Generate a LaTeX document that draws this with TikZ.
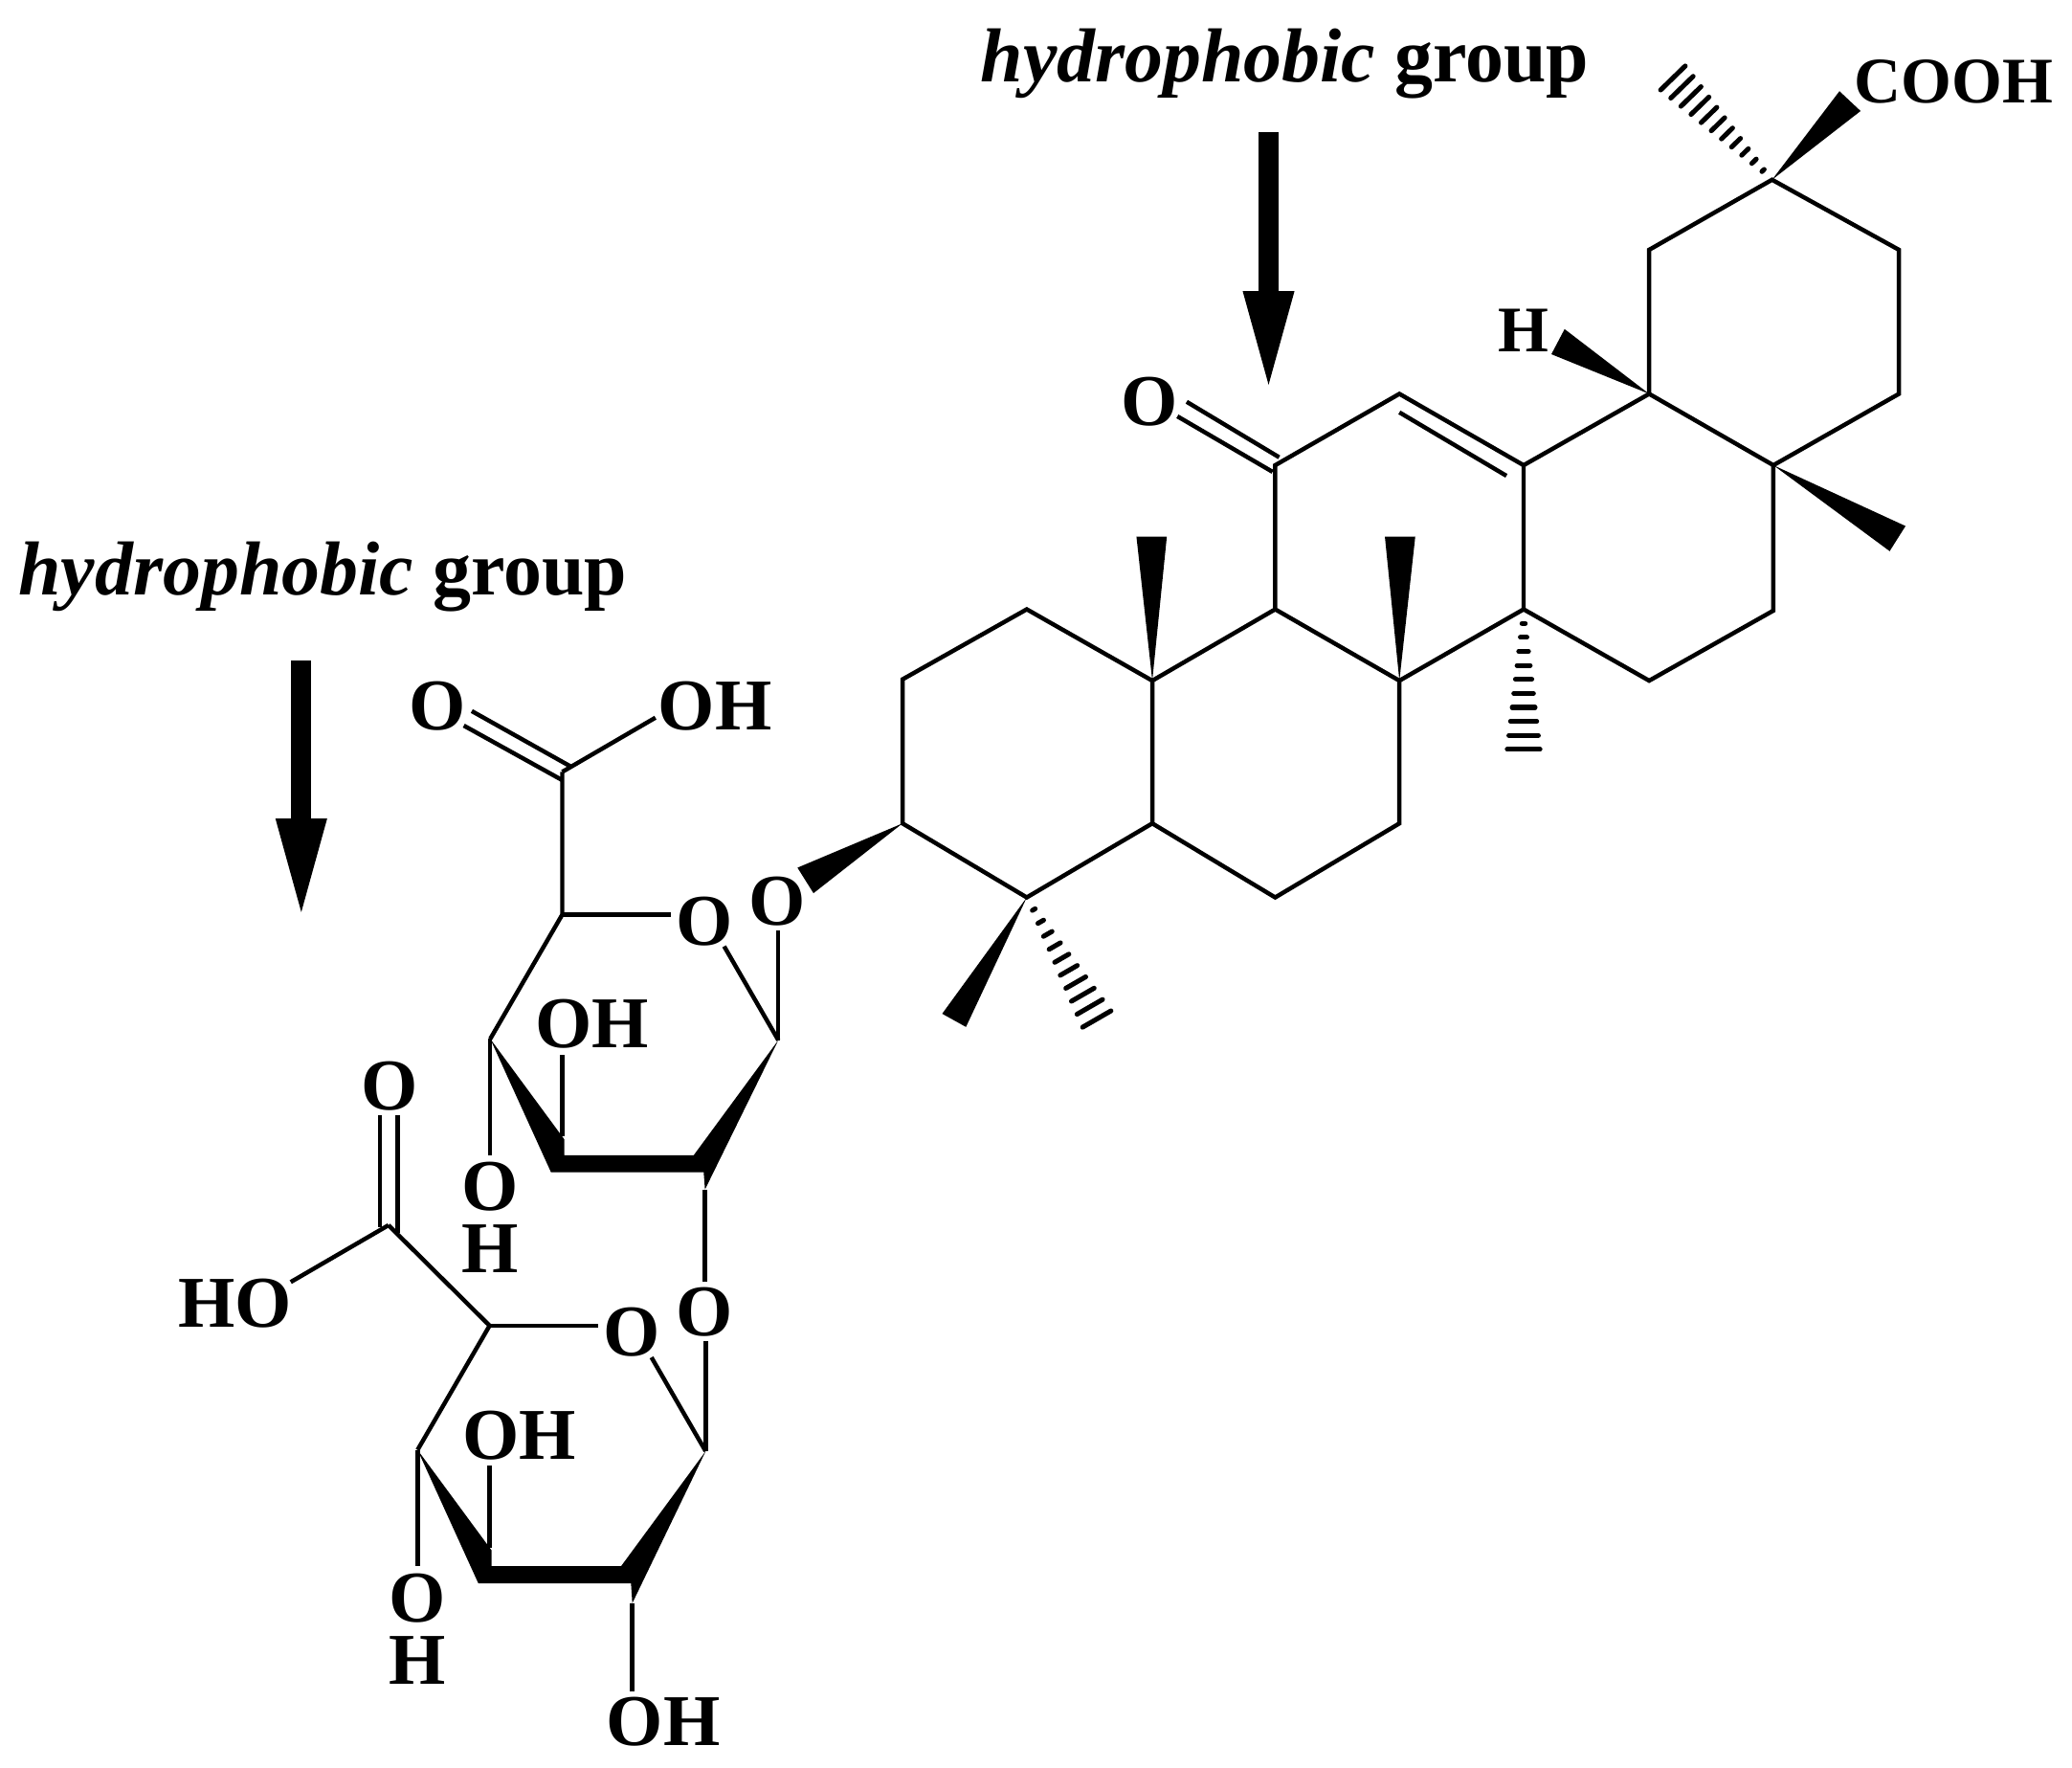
\documentclass[tikz,border=0pt]{standalone}
\usepackage{fontspec}
\setmainfont{Liberation Serif}
\usetikzlibrary{calc,arrows.meta}
\tikzset{
  bond/.style={line width=4.6pt,line join=miter,line cap=butt},
  hashline/.style={line width=5.2pt,line cap=round},
  atom/.style={inner sep=0pt,font=\fontsize{78.5}{78.5}\selectfont\bfseries,anchor=base},
  atomw/.style={atom,anchor=base west},
  small/.style={inner sep=0pt,font=\fontsize{70}{70}\selectfont\bfseries},
  caption/.style={inner sep=0pt,anchor=base west,font=\fontsize{82.3}{83}\selectfont\bfseries},
  bigarrow/.style={line width=22pt,-{Triangle[length=112pt,width=48pt]}},
  wedge/.style={fill=black,draw=none}
}
\newcommand{\hashbond}[4]{%
  \foreach \i in {1,...,#4}{%
    \pgfmathsetmacro\hasht{\i/#4}%
    \pgfmathsetmacro\hashw{#3*\hasht}%
    \coordinate (hp) at ($(#1)!\hasht!(#2)$);
    \draw[hashline] ($(hp)!\hashw cm!90:(#1)$) -- ($(hp)!\hashw cm!-90:(#1)$);
  }%
}
\begin{document}
\begin{tikzpicture}[x=0.05cm,y=-0.05cm]
\useasboundingbox (0,0) rectangle (1568,1337);
% ---- captions and arrows
\node[caption] (cap1) at (742,62) {\itshape hydrophobic\/ \upshape group};
\node[caption] (cap2) at (14,450) {\itshape hydrophobic\/ \upshape group};
\coordinate (a1s) at (960,100); \coordinate (a1e) at (960,299);
\coordinate (a2s) at (228,500); \coordinate (a2e) at (228,698);
\draw[bigarrow] (a1s) -- (a1e);
\draw[bigarrow] (a2s) -- (a2e);
% ---- aglycone atoms
\coordinate (e1) at (1341,136); \coordinate (e2) at (1437,189); \coordinate (e3) at (1437,298);
\coordinate (e4) at (1342,352); \coordinate (e5) at (1248,298); \coordinate (e6) at (1248,189);
\coordinate (d1) at (1342,462); \coordinate (d2) at (1248,515); \coordinate (d3) at (1153,461); \coordinate (d4) at (1153,352);
\coordinate (c1) at (1059,298); \coordinate (c2) at (965,352); \coordinate (c3) at (965,461); \coordinate (c4) at (1059,515);
\coordinate (b1) at (1059,623); \coordinate (b2) at (965,679); \coordinate (b3) at (872,623); \coordinate (b4) at (872,515);
\coordinate (a1) at (777,679); \coordinate (a2) at (683,623); \coordinate (a3) at (683,514); \coordinate (a4) at (777,461);
\draw[bond] (e1) -- (e2) -- (e3) -- (e4) -- (e5) -- (e6) -- cycle;
\draw[bond] (e4) -- (d1) -- (d2) -- (d3) -- (d4) -- (e5);
\draw[bond] (d4) -- (c1) -- (c2) -- (c3) -- (c4) -- (d3);
\draw[bond] (d3) -- (d4);
\coordinate (dbA) at (1059,312); \coordinate (dbB) at (1140,360);
\draw[bond] (dbA) -- (dbB);
\draw[bond] (c4) -- (b1) -- (b2) -- (b3) -- (b4) -- (c3);
\draw[bond] (b3) -- (a1) -- (a2) -- (a3) -- (a4) -- (b4);
% ketone
\node[atom] (ok) at (870,322) {O};
\coordinate (ko1) at (898,304); \coordinate (ko1b) at (968,346);
\coordinate (ko2) at (891,315); \coordinate (ko2b) at (963,357);
\draw[bond] (ko1) -- (ko1b);
\draw[bond] (ko2) -- (ko2b);
% wedges of the aglycone
\fill[wedge] (e1) -- (1392,69) -- (1408,84) -- cycle;
\fill[wedge] (e5) -- (1184,249) -- (1174,268) -- cycle;
\fill[wedge] (e4) -- (1442,398) -- (1430,417) -- cycle;
\fill[wedge] (b4) -- (860,406) -- (883,406) -- cycle;
\fill[wedge] (c4) -- (1048,406) -- (1071,406) -- cycle;
\fill[wedge] (a1) -- (713,767) -- (731,777) -- cycle;
\fill[wedge] (a2) -- (603.5,656.5) -- (615.6,675.8) -- cycle;
\coordinate (h1) at (1266,59); \coordinate (h2) at (1153,567); \coordinate (h3) at (830,771);
\hashbond{e1}{h1}{0.65}{11}
\hashbond{d3}{h2}{0.62}{10}
\hashbond{a1}{h3}{0.62}{10}
\node[small,anchor=base west] (cooh) at (1403,78) {COOH};
\node[small,anchor=base] (hh) at (1153,266) {H};
% ---- first sugar
\node[atom] (og) at (588,700) {O};
\node[atom] (or) at (533,715) {O};
\node[atom] (oc) at (331,552) {O};
\node[atomw] (ohc) at (498,552) {OH};
\node[atomw] (oh3) at (405,793) {OH};
\node[atom] (o4) at (371,916) {O};
\node[atom] (h4) at (371,963) {H};
\coordinate (s1) at (589,787); \coordinate (s2) at (425.5,692); \coordinate (s3) at (371,786);
\coordinate (s4) at (425.5,860); \coordinate (s5) at (533.5,900);
\coordinate (cc) at (425.5,584);
\coordinate (ogb) at (589,704); \coordinate (orl) at (508,692); \coordinate (orb) at (548,716);
\coordinate (ohe) at (496,543); \coordinate (o4e) at (371,874); \coordinate (oh3e) at (425.5,798);
\coordinate (odA) at (351,549); \coordinate (odB) at (425,590); \coordinate (odC) at (357,538); \coordinate (odD) at (432,580);
\draw[bond] (ogb) -- (s1);
\draw[bond] (s2) -- (orl);
\draw[bond] (orb) -- (s1);
\draw[bond] (s3) -- (s2) -- (cc);
\draw[bond] (cc) -- (ohe);
\draw[bond] (odA) -- (odB);
\draw[bond] (odC) -- (odD);
\draw[bond] (s3) -- (o4e);
\draw[bond] (s4) -- (oh3e);
\fill[wedge] (s3) -- (427,862) -- (427,874) -- (525,874) -- (s1) -- (s5) -- (532.5,887) -- (417,887) -- cycle;
% ---- second sugar
\node[atom] (og2) at (533,1011) {O};
\coordinate (ogt) at (533.5,970);
\draw[bond] (s5) -- (ogt);
\node[atom] (or2) at (478,1026) {O};
\node[atom] (oc2) at (294.5,840) {O};
\node[atom,anchor=base east] (ho2) at (221,1004) {HO};
\node[atomw] (oh32) at (350,1104) {OH};
\node[atom] (o42) at (316,1227) {O};
\node[atom] (h42) at (316,1274) {H};
\node[atomw] (ohb) at (459,1321) {OH};
\coordinate (t1) at (534,1098); \coordinate (t2) at (370.5,1003); \coordinate (t3) at (316,1097);
\coordinate (t4) at (370.5,1171); \coordinate (t5) at (478.5,1213);
\coordinate (cd) at (294,927);
\coordinate (ogb2) at (534,1015); \coordinate (orl2) at (453,1003); \coordinate (orb2) at (493,1027);
\coordinate (hoe) at (220,970); \coordinate (o4e2) at (316,1185); \coordinate (oh3e2) at (370.5,1109);
\coordinate (ohbe) at (478.5,1280);
\coordinate (qdA) at (287.6,844); \coordinate (qdB) at (287.6,928.6); \coordinate (qdC) at (301,844); \coordinate (qdD) at (301,933);
\draw[bond] (ogb2) -- (t1);
\draw[bond] (t2) -- (orl2);
\draw[bond] (orb2) -- (t1);
\draw[bond] (t3) -- (t2) -- (cd);
\draw[bond] (cd) -- (hoe);
\draw[bond] (qdA) -- (qdB);
\draw[bond] (qdC) -- (qdD);
\draw[bond] (t3) -- (o4e2);
\draw[bond] (t4) -- (oh3e2);
\draw[bond] (t5) -- (ohbe);
\fill[wedge] (t3) -- (372,1173) -- (372,1185) -- (470,1185) -- (t1) -- (t5) -- (477.5,1198) -- (362,1198) -- cycle;
\end{tikzpicture}
\end{document}
